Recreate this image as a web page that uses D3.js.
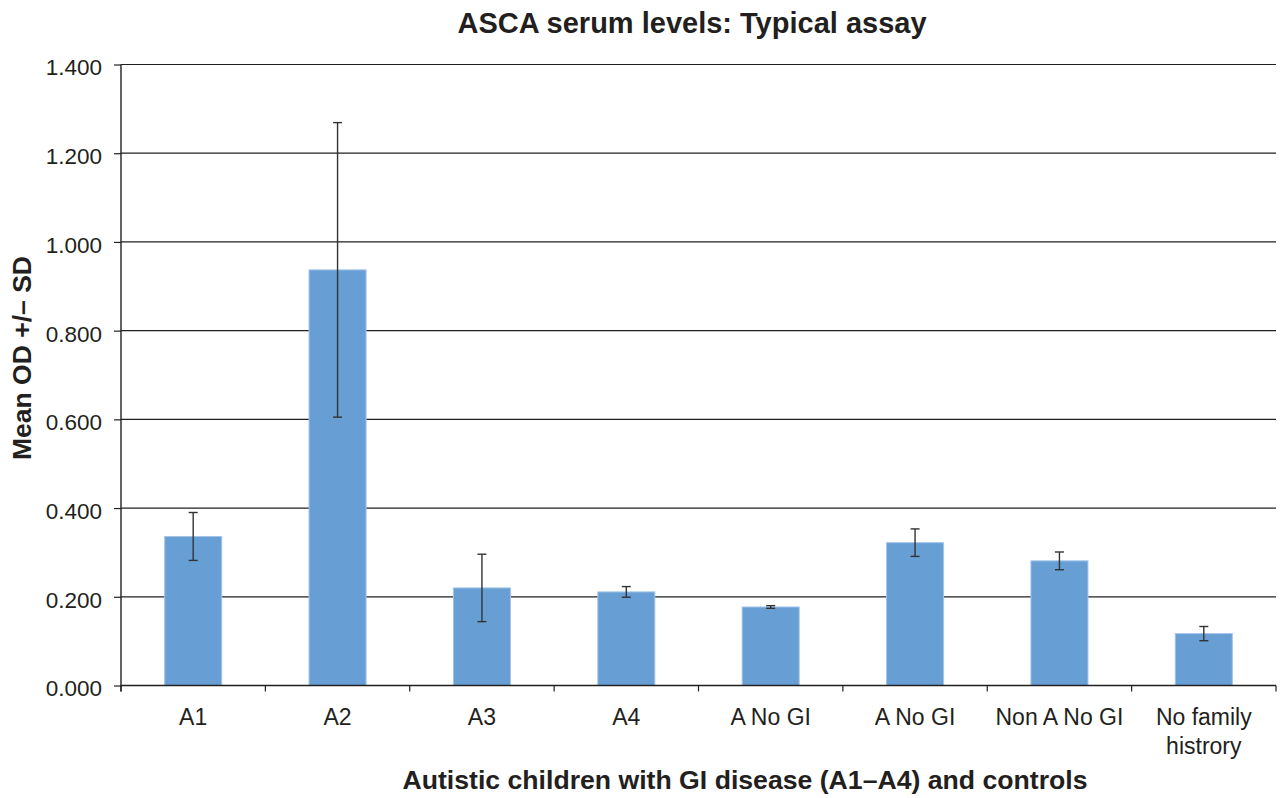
<!DOCTYPE html>
<html>
<head>
<meta charset="utf-8">
<script src="https://cdn.jsdelivr.net/npm/d3@7"></script>
<style>
  html, body { margin: 0; padding: 0; background: #fff; }
  svg { display: block; font-family: "Liberation Sans", Arial, sans-serif; }
</style>
</head>
<body>
<svg id="chart" width="1280" height="798"></svg>
<script>
// ---- data ----
const categories = ["A1", "A2", "A3", "A4", "A No GI", "A No GI", "Non A No GI", "No family\nhistrory"];
const meanOD = [0.336, 0.937, 0.220, 0.211, 0.177, 0.322, 0.281, 0.117];
const sdOD = [0.054, 0.332, 0.076, 0.012, 0.003, 0.031, 0.020, 0.016];
const yTicks = [0, 0.2, 0.4, 0.6, 0.8, 1.0, 1.2, 1.4];
const titleText = "ASCA serum levels: Typical assay";
const xTitle = "Autistic children with GI disease (A1\u2013A4) and controls";
const yTitle = "Mean OD +/\u2013 SD";

// ---- layout ----
const plotL = 121, plotR = 1276, plotT = 64.5, plotB = 685.5;
const ink = "#231f20";

const svg = d3.select("#chart");

const idx = categories.map((d, i) => i);
const x = d3.scaleBand().domain(idx).range([plotL, plotR]).padding(0);
const y = d3.scaleLinear().domain([0, 1.4]).range([plotB, plotT]);
const barW = x.bandwidth() * 0.395;

// gridlines
svg.append("g").selectAll("line").data(yTicks.filter(t => t > 0)).join("line")
  .attr("x1", plotL).attr("x2", plotR)
  .attr("y1", d => y(d)).attr("y2", d => y(d))
  .attr("stroke", ink).attr("stroke-width", 1.2);

// bars
svg.append("g").selectAll("rect").data(idx).join("rect")
  .attr("x", i => x(i) + (x.bandwidth() - barW) / 2)
  .attr("width", barW)
  .attr("y", i => y(meanOD[i]))
  .attr("height", i => y(0) - y(meanOD[i]))
  .attr("fill", "#679fd5")
  .attr("stroke", "#a3c4e8")
  .attr("stroke-width", 1);

// error bars
const eg = svg.append("g").attr("stroke", "#333").attr("stroke-width", 1.4);
idx.forEach(i => {
  const cx = x(i) + x.bandwidth() / 2;
  const hi = y(meanOD[i] + sdOD[i]), lo = y(meanOD[i] - sdOD[i]);
  eg.append("line").attr("x1", cx).attr("x2", cx).attr("y1", hi).attr("y2", lo);
  eg.append("line").attr("x1", cx - 4.5).attr("x2", cx + 4.5).attr("y1", hi).attr("y2", hi);
  eg.append("line").attr("x1", cx - 4.5).attr("x2", cx + 4.5).attr("y1", lo).attr("y2", lo);
});

// y axis
const yAxis = d3.axisLeft(y).tickValues(yTicks).tickFormat(d3.format(".3f")).tickSize(7).tickPadding(12);
const gy = svg.append("g").attr("transform", `translate(${plotL},0)`).call(yAxis);
gy.select(".domain").attr("stroke", ink).attr("stroke-width", 1.4).attr("d", `M0,${plotT}V${plotB + 6}`);
gy.selectAll(".tick line").attr("stroke", ink).attr("stroke-width", 1.2);
gy.selectAll(".tick text").attr("fill", ink).attr("font-size", 22.5)
  .attr("font-family", "Liberation Sans, Arial, sans-serif").attr("dy", "0.46em");

// x axis: line + boundary ticks
const bounds = idx.map(i => x(i)).concat([plotR]);
svg.append("line").attr("x1", plotL).attr("x2", plotR).attr("y1", plotB).attr("y2", plotB)
  .attr("stroke", ink).attr("stroke-width", 1.4);
svg.append("g").selectAll("line").data(bounds).join("line")
  .attr("x1", d => d).attr("x2", d => d).attr("y1", plotB).attr("y2", plotB + 6)
  .attr("stroke", ink).attr("stroke-width", 1.2);

// category labels
const cl = svg.append("g").attr("font-size", 23).attr("fill", ink).attr("text-anchor", "middle");
idx.forEach(i => {
  const lines = categories[i].split("\n");
  const t = cl.append("text").attr("x", x(i) + x.bandwidth() / 2).attr("y", 725);
  lines.forEach((ln, k) => {
    t.append("tspan").attr("x", x(i) + x.bandwidth() / 2).attr("dy", k === 0 ? 0 : 28.5).text(ln);
  });
});

// title
svg.append("text").attr("x", 692).attr("y", 33).attr("text-anchor", "middle")
  .attr("font-size", 29).attr("font-weight", "bold").attr("fill", ink).text(titleText);

// x title
svg.append("text").attr("x", 745).attr("y", 789).attr("text-anchor", "middle")
  .attr("font-size", 26).attr("font-weight", "bold").attr("fill", ink)
  .attr("textLength", 685).attr("lengthAdjust", "spacingAndGlyphs").text(xTitle);

// y title
svg.append("text").attr("transform", "translate(31,358) rotate(-90)").attr("text-anchor", "middle")
  .attr("font-size", 26).attr("font-weight", "bold").attr("fill", ink)
  .attr("textLength", 204).attr("lengthAdjust", "spacingAndGlyphs").text(yTitle);
</script>
</body>
</html>
